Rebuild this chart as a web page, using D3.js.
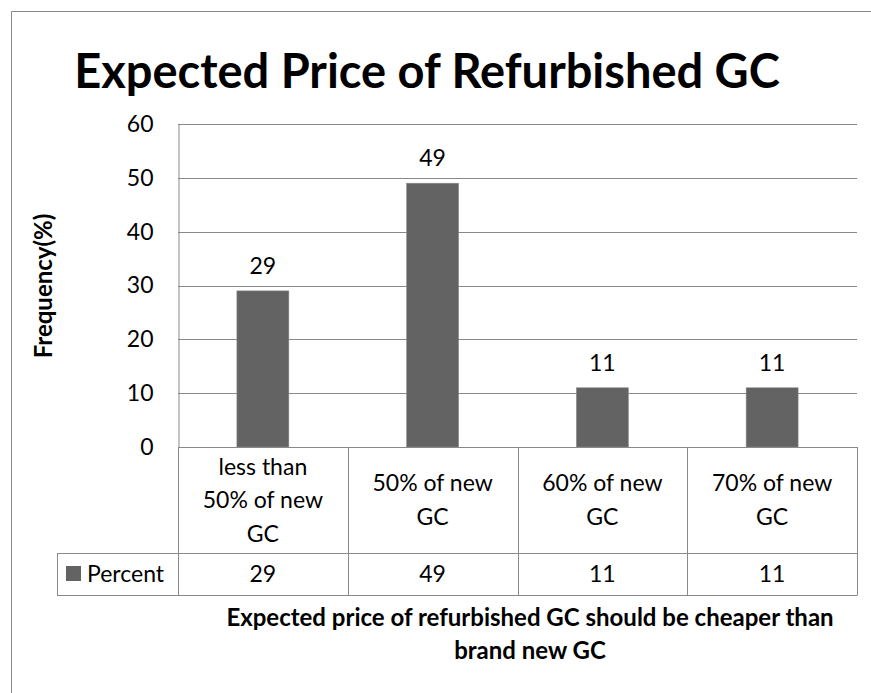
<!DOCTYPE html>
<html>
<head>
<meta charset="utf-8">
<script src="https://cdn.jsdelivr.net/npm/d3@7"></script>
<style>
  html, body { margin: 0; padding: 0; background: #fff; }
  svg { display: block; }
  text { font-family: Lato, "Open Sans", sans-serif; fill: #000; }
</style>
</head>
<body>
<svg id="chart" width="871" height="693"></svg>
<script>
const categories = [["less than", "50% of new", "GC"], ["50% of new", "GC"], ["60% of new", "GC"], ["70% of new", "GC"]];
const percentValues = [29, 49, 11, 11];
const yTicks = [0, 10, 20, 30, 40, 50, 60];
const seriesName = "Percent";
const titleText = "Expected Price of Refurbished GC";
const yTitle = "Frequency(%)";
const xTitleLines = ["Expected price of refurbished GC should be cheaper than", "brand new GC"];

const svg = d3.select("#chart");
const plot = { left: 178, right: 857, top: 124, bottom: 447 };
const tableRow1 = 553, tableRow2 = 595, legendLeft = 57;
const gridColor = "#898989";
const barColor = "#636363";
const fs = "23px";

// outer chart border (left and top visible)
svg.append("path").attr("d", "M11.5,693 L11.5,11.5 L871,11.5")
  .attr("fill", "none").attr("stroke", "#8a8a8a").attr("stroke-width", 1);

// title
svg.append("text").attr("x", 427).attr("y", 88).attr("text-anchor", "middle")
  .style("font-size", "47px").style("font-weight", "bold").text(titleText);

const idx = d3.range(categories.length);
const x = d3.scaleBand().domain(idx).range([plot.left, plot.right]).padding(0);
const y = d3.scaleLinear().domain([0, 60]).range([plot.bottom, plot.top]);

// gridlines
svg.append("g").selectAll("line").data(yTicks).join("line")
  .attr("x1", plot.left).attr("x2", plot.right)
  .attr("y1", d => Math.round(y(d)) + 0.5).attr("y2", d => Math.round(y(d)) + 0.5)
  .attr("stroke", gridColor).attr("stroke-width", 1);

// y axis via d3
const yAxis = d3.axisLeft(y).tickValues(yTicks).tickSize(0).tickPadding(25);
const gy = svg.append("g").attr("transform", `translate(${plot.left + 0.5},0)`).call(yAxis);
gy.select(".domain").attr("stroke", gridColor);
gy.selectAll("text").style("font-size", fs).style("font-family", "Lato, sans-serif").attr("fill", "#000");

// bars
const barW = x.bandwidth() * 0.306;
svg.append("g").selectAll("rect").data(percentValues).join("rect")
  .attr("x", (d, i) => x(i) + x.bandwidth() / 2 - barW / 2)
  .attr("y", d => y(d))
  .attr("width", barW)
  .attr("height", d => y(0) - y(d))
  .attr("fill", barColor)
  .attr("stroke", "#8a8a8a").attr("stroke-width", 0.6);

// data labels
svg.append("g").selectAll("text").data(percentValues).join("text")
  .attr("x", (d, i) => x(i) + x.bandwidth() / 2)
  .attr("y", d => y(d) - 17)
  .attr("text-anchor", "middle").style("font-size", fs)
  .text(d => d);

// data table lines
const tl = svg.append("g").attr("stroke", gridColor).attr("stroke-width", 1);
tl.append("line").attr("x1", legendLeft).attr("x2", plot.right).attr("y1", tableRow1 + 0.5).attr("y2", tableRow1 + 0.5);
tl.append("line").attr("x1", legendLeft).attr("x2", plot.right).attr("y1", tableRow2 + 0.5).attr("y2", tableRow2 + 0.5);
tl.append("line").attr("x1", legendLeft + 0.5).attr("x2", legendLeft + 0.5).attr("y1", tableRow1).attr("y2", tableRow2);
tl.selectAll("line.v").data(idx.concat([categories.length])).join("line").attr("class", "v")
  .attr("x1", d => Math.round(d < categories.length ? x(d) : plot.right) + 0.5)
  .attr("x2", d => Math.round(d < categories.length ? x(d) : plot.right) + 0.5)
  .attr("y1", plot.bottom).attr("y2", tableRow2 + 0.5);

// category labels (multi-line, centered in cell)
const lineH = 33.5;
const catG = svg.append("g");
categories.forEach((lines, i) => {
  const cy = (plot.bottom + tableRow1) / 2;
  const t = catG.append("text").attr("text-anchor", "middle").style("font-size", fs);
  lines.forEach((ln, k) => {
    t.append("tspan").attr("x", x(i) + x.bandwidth() / 2)
      .attr("y", cy + (k - (lines.length - 1) / 2) * lineH + 8).text(ln);
  });
});

// table values
svg.append("g").selectAll("text").data(percentValues).join("text")
  .attr("x", (d, i) => x(i) + x.bandwidth() / 2)
  .attr("y", (tableRow1 + tableRow2) / 2 + 8)
  .attr("text-anchor", "middle").style("font-size", fs).text(d => d);

// legend key
svg.append("rect").attr("x", 66).attr("y", 566).attr("width", 15).attr("height", 15).attr("fill", barColor);
svg.append("text").attr("x", 87).attr("y", (tableRow1 + tableRow2) / 2 + 8)
  .style("font-size", fs).text(seriesName);

// y axis title
svg.append("text").attr("transform", "translate(52,286) rotate(-90)")
  .attr("text-anchor", "middle").style("font-size", "24px").style("font-weight", "bold").text(yTitle);

// x axis title
const xt = svg.append("text").attr("text-anchor", "middle").style("font-size", "24px").style("font-weight", "bold");
xTitleLines.forEach((ln, k) => {
  xt.append("tspan").attr("x", 530).attr("y", 626 + k * 33).text(ln);
});
</script>
</body>
</html>
